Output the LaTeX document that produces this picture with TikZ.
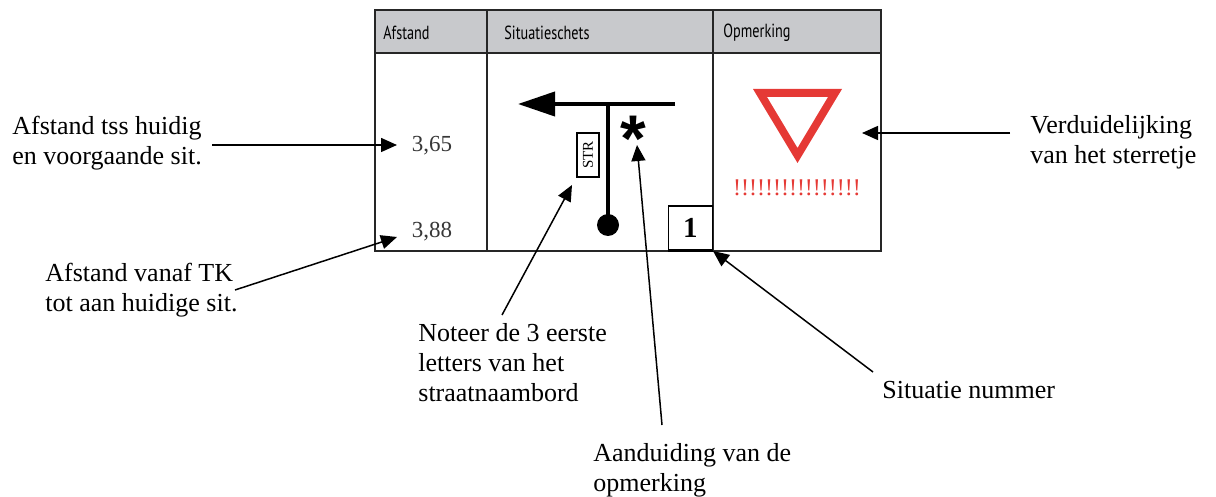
\documentclass[tikz,border=0pt]{standalone}
\usepackage{fontspec}
\setmainfont{Liberation Serif}
\newfontfamily\headfont[FakeStretch=0.75]{PT Sans}
\newfontfamily\starfont{Liberation Sans}
\usetikzlibrary{arrows.meta,positioning}

\definecolor{headgray}{RGB}{200,201,204}
\definecolor{signred}{RGB}{229,57,53}
\definecolor{numgray}{RGB}{55,55,55}

\begin{document}
\begin{tikzpicture}
%Legend of the situation sketch
	[
	 x=0.5pt, y=-0.5pt,
	 %Styles
	 label_text/.style={inner sep=0, anchor=north west, align=left, font=\fontsize{13}{15}\selectfont},
	 head_text/.style={inner sep=0, anchor=west, font=\headfont\fontsize{9.5}{11}\selectfont},
	 dist_text/.style={inner sep=0, text=numgray, font=\fontsize{11.5}{13}\selectfont},
	 table_line/.style={draw=black!85, line width=1pt},
	 road_line/.style={line width=2pt},
	 pointer/.style={-{Triangle[length=8pt,width=7pt]}, line width=0.75pt}
	]

	\useasboundingbox (0,0) rectangle (1216,497);

	%Table
	\fill[headgray] (375,10) rectangle (881,53);
	\draw[table_line] (375,10) rectangle (881,251)
		(375,53) -- (881,53)
		(487,10) -- (487,251)
		(713,10) -- (713,251);
	\node (head1)[head_text] at (383,33) {Afstand};
	\node (head2)[head_text] at (504,33) {Situatieschets};
	\node (head3)[head_text] at (723,33) {Opmerking};

	%Distances
	\node (dist1)[dist_text] at (432,146) {3,65};
	\node (dist2)[dist_text] at (432,232) {3,88};

	%Sketch
	\draw[road_line, -{Triangle[length=18.5pt,width=12pt]}] (675,104) -- (518,104);
	\draw[road_line] (608,104) -- (608,225);
	\fill (608,225) circle [radius=5.5pt];
	\node (strbox)[draw, line width=1.1pt, rotate=90, inner sep=0, minimum width=22pt, minimum height=11pt,
		font=\fontsize{7.5}{8}\selectfont] at (588,155) {STR};
	\node (star)[inner sep=0, anchor=base, font=\starfont\bfseries\fontsize{33}{33}\selectfont] at (633,162) {*};
	\node (box1)[draw, line width=0.75pt, inner sep=0, minimum size=22pt, anchor=south east,
		font=\fontsize{14.5}{16}\bfseries] at (713,251) {1};
	\draw[line width=1.25pt] (box1.south west) -- (box1.south east);

	%Remark
	\fill[signred, even odd rule] (753,89) -- (842,89) -- (797.5,163) -- cycle
		(767,97) -- (828,97) -- (797.5,148) -- cycle;
	\node (marks)[inner sep=0, text=signred, font=\fontsize{12}{14}\selectfont] at (797,188) {!!!!!!!!!!!!!!!!};

	%Labels
	\node (lblA)[label_text] at (12,116) {Afstand tss huidig\\en voorgaande sit.};
	\node (lblB)[label_text] at (45,263) {Afstand vanaf TK\\tot aan huidige sit.};
	\node (lblC)[label_text] at (418,323) {Noteer de 3 eerste\\letters van het\\straatnaambord};
	\node (lblD)[label_text] at (593,443) {Aanduiding van de\\opmerking};
	\node (lblE)[label_text] at (882,381) {Situatie nummer};
	\node (lblF)[label_text] at (1030,115) {Verduidelijking\\van het sterretje};

	\coordinate (fromA) at (212,145);
	\coordinate (toA) at (397,145);
	\coordinate (fromB) at (235,290);
	\coordinate (toB) at (397,237);
	\coordinate (fromC) at (502,315);
	\coordinate (strfoot) at (572,185);
	\coordinate (fromD) at (662,425);
	\coordinate (starfoot) at (637,145);
	\coordinate (fromE) at (873,372);
	\coordinate (fromF) at (1010,133);
	\coordinate (signside) at (862,133);

	%Edges
	\path
		(fromA) edge [pointer] (toA)
		(fromB) edge [pointer] (toB)
		(fromC) edge [pointer] (strfoot)
		(fromD) edge [pointer] (starfoot)
		(fromE) edge [pointer] (box1.south east)
		(fromF) edge [pointer] (signside);
\end{tikzpicture}
\end{document}
